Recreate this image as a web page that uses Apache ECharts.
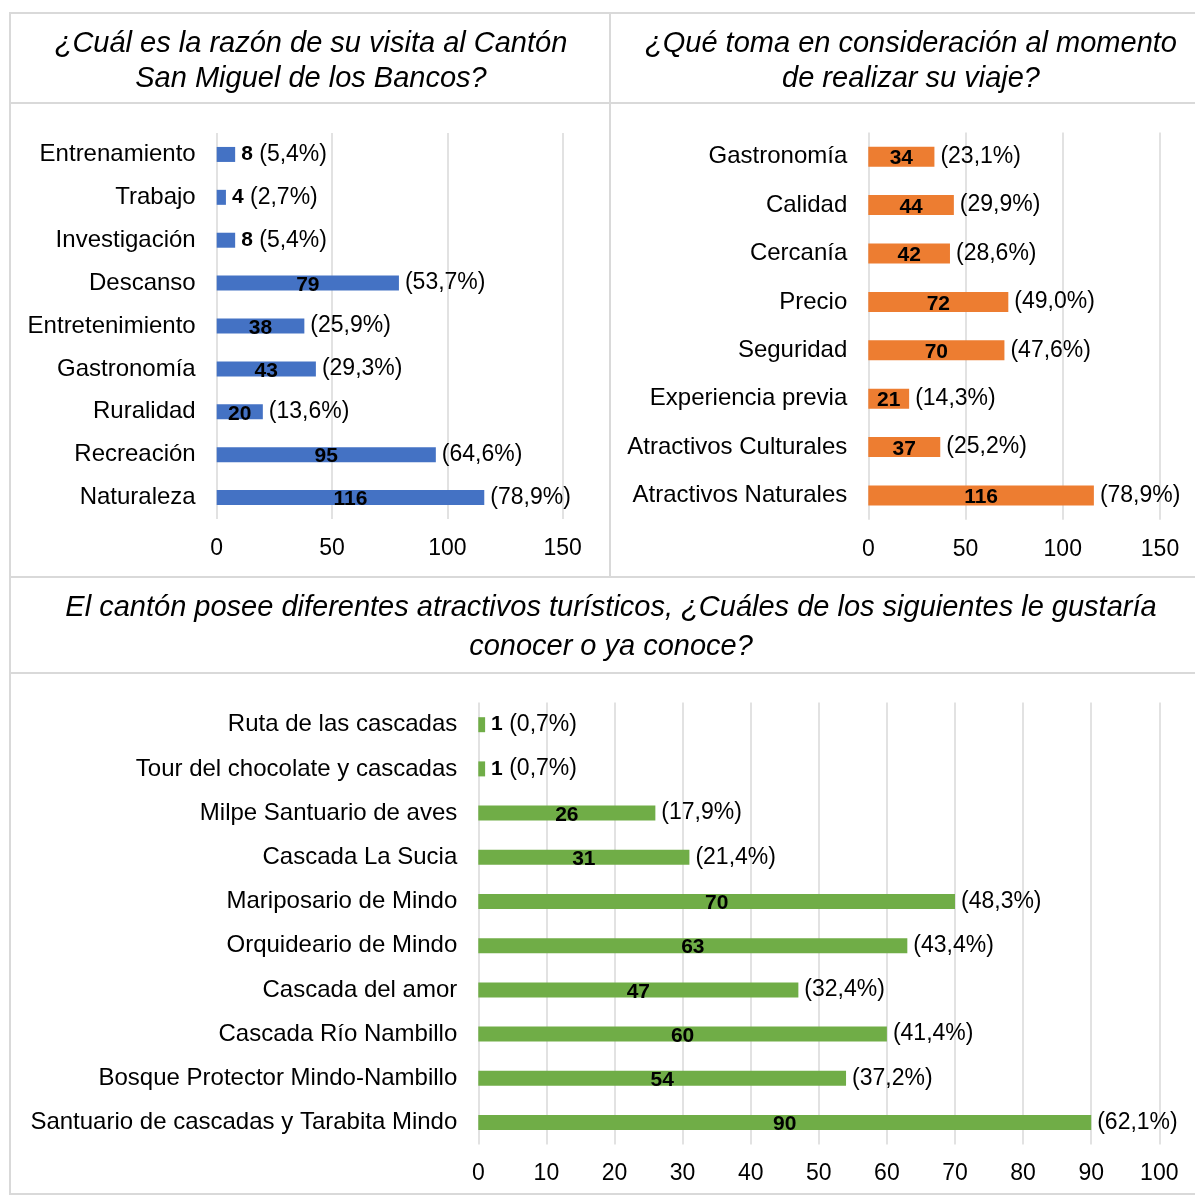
<!DOCTYPE html>
<html>
<head>
<meta charset="utf-8">
<script src="https://cdn.jsdelivr.net/npm/echarts@6/dist/echarts.min.js"></script>
<style>
  html, body { margin: 0; padding: 0; background: #fff; }
  #chart { width: 1195px; height: 1195px; }
</style>
</head>
<body>
<div id="chart"></div>
<script>
// razón de la visita
const razonCats = ["Entrenamiento", "Trabajo", "Investigación", "Descanso", "Entretenimiento", "Gastronomía", "Ruralidad", "Recreación", "Naturaleza"];
const razonVals = [8, 4, 8, 79, 38, 43, 20, 95, 116];
const razonPct = ["5,4%", "2,7%", "5,4%", "53,7%", "25,9%", "29,3%", "13,6%", "64,6%", "78,9%"];

// consideraciones del viaje
const viajeCats = ["Gastronomía", "Calidad", "Cercanía", "Precio", "Seguridad", "Experiencia previa", "Atractivos Culturales", "Atractivos Naturales"];
const viajeVals = [34, 44, 42, 72, 70, 21, 37, 116];
const viajePct = ["23,1%", "29,9%", "28,6%", "49,0%", "47,6%", "14,3%", "25,2%", "78,9%"];

// atractivos turísticos
const atracCats = ["Ruta de las cascadas", "Tour del chocolate y cascadas", "Milpe Santuario de aves", "Cascada La Sucia", "Mariposario de Mindo", "Orquideario de Mindo", "Cascada del amor", "Cascada Río Nambillo", "Bosque Protector Mindo-Nambillo", "Santuario de cascadas y Tarabita Mindo"];
const atracVals = [1, 1, 26, 31, 70, 63, 47, 60, 54, 90];
const atracPct = ["0,7%", "0,7%", "17,9%", "21,4%", "48,3%", "43,4%", "32,4%", "41,4%", "37,2%", "62,1%"];

const titles = [
  "¿Cuál es la razón de su visita al Cantón\nSan Miguel de los Bancos?",
  "¿Qué toma en consideración al momento\nde realizar su viaje?",
  "El cantón posee diferentes atractivos turísticos, ¿Cuáles de los siguientes le gustaría\nconocer o ya conoce?"
];

const FONT = '"Liberation Sans", Arial, sans-serif';
const BORDER = "#d9d9d9";

function yAxisOf(idx, cats) {
  return {
    type: "category", gridIndex: idx, data: cats, inverse: true,
    axisLine: { show: false }, axisTick: { show: false },
    axisLabel: { interval: 0, fontSize: 24, color: "#000", margin: 21, fontFamily: FONT }
  };
}

function xAxisOf(idx, max, interval) {
  return {
    type: "value", gridIndex: idx, min: 0, max: max, interval: interval,
    axisLine: { show: false }, axisTick: { show: false },
    splitLine: { lineStyle: { color: BORDER, width: 1.5 } },
    axisLabel: { fontSize: 23, color: "#000", margin: 18, fontFamily: FONT }
  };
}

// dos series por gráfico: la barra con su valor dentro y una copia transparente con el porcentaje
function barsOf(idx, vals, pcts, color, width, minInside) {
  return [
    {
      type: "bar", xAxisIndex: idx, yAxisIndex: idx, data: vals,
      barWidth: width, barGap: "-100%", silent: true,
      itemStyle: { color: color },
      label: {
        show: true, position: "inside", offset: [0, 2], color: "#000", fontSize: 21, fontWeight: "bold", fontFamily: FONT,
        formatter: p => (p.value >= minInside ? String(p.value) : "")
      }
    },
    {
      type: "bar", xAxisIndex: idx, yAxisIndex: idx, data: vals,
      barWidth: width, barGap: "-100%", silent: true,
      itemStyle: { color: "rgba(0,0,0,0)" },
      label: {
        show: true, position: "right", color: "#000", fontSize: 23, fontFamily: FONT,
        distance: 6,
        formatter: p => (p.value < minInside ? "{v|" + p.value + "} " : "") + "(" + pcts[p.dataIndex] + ")",
        rich: { v: { fontSize: 21, fontWeight: "bold", color: "#000", fontFamily: FONT } }
      }
    }
  ];
}

function hLine(y, x1, x2) {
  return { type: "line", silent: true, shape: { x1: x1, y1: y, x2: x2, y2: y }, style: { stroke: BORDER, lineWidth: 2 } };
}

function titleText(x, y, text, lh) {
  return {
    type: "text", x: x, y: y, silent: true,
    style: {
      text: text, fill: "#000", fontSize: 29, fontStyle: "italic", fontFamily: FONT,
      align: "center", verticalAlign: "middle", textAlign: "center", textVerticalAlign: "middle", lineHeight: lh
    }
  };
}

const myChart = echarts.init(document.getElementById("chart"));
myChart.setOption({
  animation: false,
  backgroundColor: "#fff",
  grid: [
    { left: 216.7, top: 133, width: 346, height: 386 },
    { left: 868.3, top: 132.5, width: 291.7, height: 387.2 },
    { left: 478.3, top: 702.6, width: 681, height: 442 }
  ],
  xAxis: [xAxisOf(0, 150, 50), xAxisOf(1, 150, 50), xAxisOf(2, 100, 10)],
  yAxis: [yAxisOf(0, razonCats), yAxisOf(1, viajeCats), yAxisOf(2, atracCats)],
  series: [].concat(
    barsOf(0, razonVals, razonPct, "#4472C4", 15, 12),
    barsOf(1, viajeVals, viajePct, "#ED7D31", 20, 12),
    barsOf(2, atracVals, atracPct, "#70AD47", 15, 5)
  ),
  graphic: [
    { type: "rect", silent: true, shape: { x: 10, y: 13, width: 1202, height: 1181 }, style: { fill: null, stroke: BORDER, lineWidth: 2 } },
    hLine(103, 10, 1212),
    hLine(577, 10, 1212),
    hLine(673, 10, 1212),
    { type: "line", silent: true, shape: { x1: 610, y1: 13, x2: 610, y2: 577 }, style: { stroke: BORDER, lineWidth: 2 } },
    titleText(311, 61, titles[0], 35),
    titleText(911, 61, titles[1], 35),
    titleText(611, 627, titles[2], 39)
  ]
});
</script>
</body>
</html>
